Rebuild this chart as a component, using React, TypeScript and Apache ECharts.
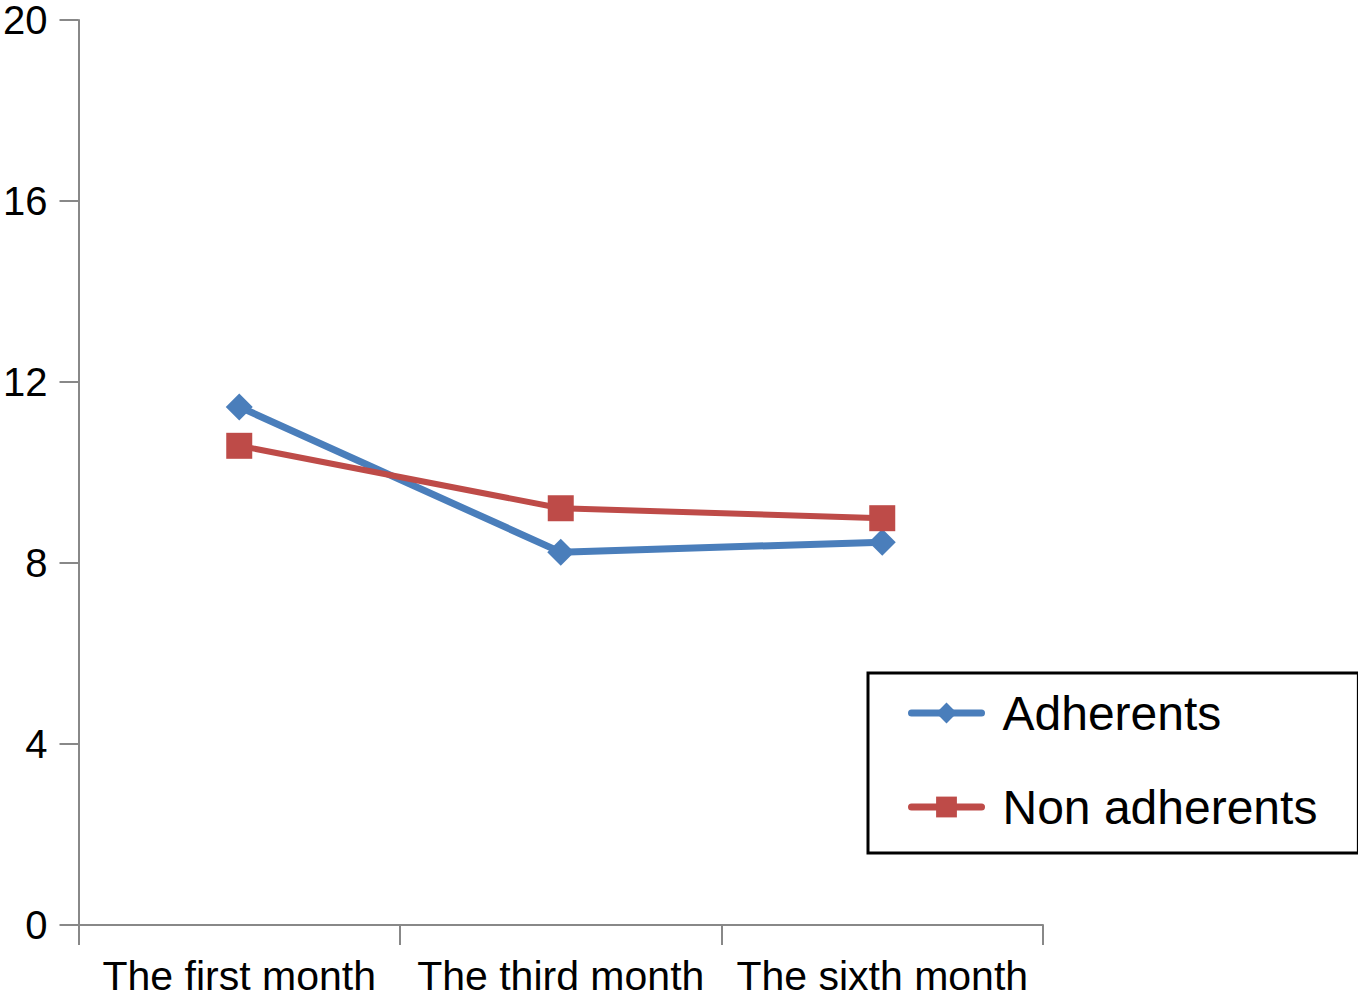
import React, { useEffect, useRef } from "react";
import * as echarts from "echarts";

const categories = ["The first month", "The third month", "The sixth month"];
const adherents = [11.45, 8.24, 8.46];
const nonAdherents = [10.59, 9.21, 8.99];
const seriesNames = ["Adherents", "Non adherents"];

export default function App() {
  const ref = useRef<HTMLDivElement>(null);
  useEffect(() => {
    const chart = echarts.init(ref.current!, null, { renderer: "svg" });
    const axisColor = "#888888";
    chart.setOption({
      animation: false,
      textStyle: { fontFamily: "Liberation Sans, Arial, sans-serif" },
      grid: { left: 77, right: 315, top: 17, bottom: 75, containLabel: false },
      legend: {
        orient: "vertical",
        left: 868,
        top: 673,
        borderColor: "#000",
        borderWidth: 3,
        padding: [16, 41, 22, 40],
        itemWidth: 70,
        itemHeight: 26,
        itemGap: 46,
        lineStyle: { width: 7, cap: "round" },
        textStyle: { fontSize: 48, color: "#000", padding: [0, 0, 0, 16], fontFamily: "Liberation Sans, Arial, sans-serif" },
        data: seriesNames,
      },
      xAxis: {
        type: "category",
        data: categories,
        boundaryGap: true,
        axisLine: { show: true, lineStyle: { color: axisColor, width: 2 } },
        axisTick: { show: true, alignWithLabel: false, length: 20, lineStyle: { color: axisColor, width: 2 } },
        axisLabel: { fontSize: 41, color: "#000", margin: 30, interval: 0 },
        splitLine: { show: false },
      },
      yAxis: {
        type: "value",
        min: 0,
        max: 20,
        interval: 4,
        axisLine: { show: true, lineStyle: { color: axisColor, width: 2 } },
        axisTick: { show: true, length: 19, lineStyle: { color: axisColor, width: 2 } },
        axisLabel: { fontSize: 40, color: "#000", margin: 31 },
        splitLine: { show: false },
      },
      series: [
        {
          name: seriesNames[0],
          type: "line",
          data: adherents,
          symbol: "diamond",
          symbolSize: 27,
          color: "#4A7EBB",
          lineStyle: { width: 7, color: "#4A7EBB" },
          itemStyle: { color: "#4A7EBB" },
          z: 2,
        },
        {
          name: seriesNames[1],
          type: "line",
          data: nonAdherents,
          symbol: "rect",
          symbolSize: 26,
          color: "#BE4B48",
          lineStyle: { width: 6, color: "#BE4B48" },
          itemStyle: { color: "#BE4B48" },
          z: 3,
        },
      ],
    });
    return () => chart.dispose();
  }, []);
  return <div ref={ref} style={{ width: 1358, height: 1000, position: "absolute", left: 0, top: 0, background: "#fff" }} />;
}
